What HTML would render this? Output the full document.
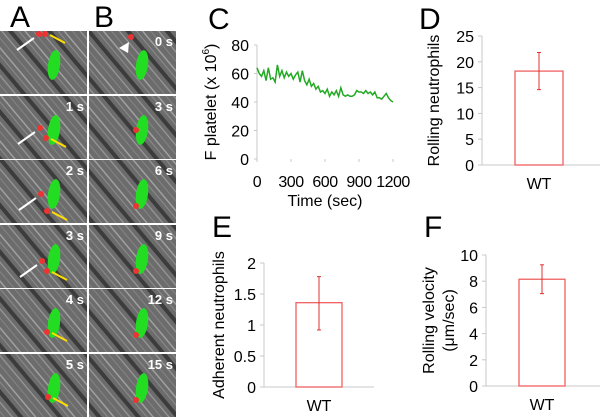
<!DOCTYPE html>
<html><head><meta charset="utf-8">
<style>
body{margin:0;background:#fff;font-family:"Liberation Sans",Arial,sans-serif;}
#wrap{position:relative;width:600px;height:419px;overflow:hidden;}
svg text{font-family:"Liberation Sans",Arial,sans-serif;}
</style></head>
<body>
<div id="wrap">
<svg id="fig" width="600" height="419" viewBox="0 0 600 419" xmlns="http://www.w3.org/2000/svg">
<defs>
<pattern id="tex" width="30" height="30" patternUnits="userSpaceOnUse" patternTransform="rotate(50)">
<rect width="30" height="30" fill="#6c6c6c"/>
<rect y="0" width="30" height="1.5" fill="#a0a0a0"/>
<rect y="5" width="30" height="1" fill="#8c8c8c"/>
<rect y="10" width="30" height="4" fill="#3c3c3c"/>
<rect y="18" width="30" height="1.2" fill="#9a9a9a"/>
<rect y="24" width="30" height="1" fill="#848484"/>
</pattern>
</defs>
<g id="micro"></g>
<g id="charts"></g>
</svg>
</div>
<script>
// Panel C data
const cTimes = [0,20,40,60,80,100,120,140,160,180,200,220,240,260,280,300,320,340,360,380,400,420,440,460,480,500,520,540,560,580,600,620,640,660,680,700,720,740,760,780,800,820,840,860,880,900,920,940,960,980,1000,1020,1040,1060,1080,1100,1120,1140,1160,1180,1200];
const cValues = [64,60,58,62,55,64,56,57,54,66,58,62,57,61,58,60,56,59,61,54,62,55,52,56,51,53,49,51,47,48,46,49,44,47,45,48,44,50,45,44,45,44,44,45,48,47,47,46,48,46,47,45,47,43,43,42,44,46,43,41,40];
const cTicksY = [0,20,40,60,80];
const cTicksX = [0,300,600,900,1200];
// Bar panels
const dCats = ['WT']; const dVals = [18.2]; const dErrLo = [14.6]; const dErrHi = [21.8];
const dTicks = [0,5,10,15,20,25];
const eCats = ['WT']; const eVals = [1.36]; const eErrLo = [0.92]; const eErrHi = [1.78];
const eTicks = ['0','0.5','1','1.5','2'];
const fCats = ['WT']; const fVals = [8.15]; const fErrLo = [7.05]; const fErrHi = [9.25];
const fTicks = [0,2,4,6,8,10];
// Microscopy times
const aTimes = ['','1 s','2 s','3 s','4 s','5 s'];
const bTimes = ['0 s','3 s','6 s','9 s','12 s','15 s'];

const NS='http://www.w3.org/2000/svg';
function mk(tag,attrs,parent,txt){const e=document.createElementNS(NS,tag);for(const k in attrs)e.setAttribute(k,attrs[k]);if(txt!==undefined)e.textContent=txt;parent.appendChild(e);return e;}
const charts=document.getElementById('charts');

[['A',10,27],['B',94,27],['C',208,29],['D',419,29],['E',212,237],['F',424,237]].forEach(l=>{
 const t=mk('text',{x:l[1],y:l[2],'font-size':30},charts,l[0]);
 
 
});

// microscopy
const micro=document.getElementById('micro');
const rows=[31,96,160,225,289,354];
const redA=[[[39,3],[45,3]],[[40,32],[46,42]],[[41,34],[47,51]],[[42,36],[47,46]],[[47,43]],[[48,43]]];
rows.forEach((ry,i)=>{
 [[0,aTimes[i],'a'],[89,bTimes[i],'b']].forEach(([px,lab,c])=>{
  const g=mk('g',{},micro);
  
  
  mk('rect',{x:px,y:ry,width:87,height:63,fill:'url(#tex)'},g);
  const gx = c==='a'?px+54:px+53, gy=ry+34;
  mk('ellipse',{cx:gx,cy:gy,rx:6,ry:15,fill:'#22dd22',transform:`rotate(8 ${gx} ${gy})`},g);
  if(c==='a'){
   redA[i].forEach(p=>mk('circle',{cx:px+p[0],cy:ry+p[1],r:3,fill:'#ee3333'},g));
   if(i<4){const w=redA[i][0];mk('line',{x1:px+w[0]-22,y1:ry+w[1]+16,x2:px+w[0]-5,y2:ry+w[1]+4,stroke:'#fff','stroke-width':2},g);}
   const y=redA[i][redA[i].length-1];
   mk('line',{x1:px+y[0]+20,y1:ry+y[1]+9,x2:px+y[0]+5,y2:ry+y[1]+1,stroke:'#ffdd00','stroke-width':2},g);
  } else {
   const rp = i===0?[px+42,ry+6]:[gx-6,gy+(i===1?0:12)];
   mk('circle',{cx:rp[0],cy:rp[1],r:3,fill:'#ee3333'},g);
  }
  if(lab){mk('text',{x:px+84,y:ry+15,'font-size':13,fill:'#fff','text-anchor':'end','font-weight':'bold'},g,lab);}
 });
});
mk('polygon',{points:'119,48 129,42 128,53',fill:'#fff'},micro);

// Panel C
(function(){
 const g=mk('g',{},charts);
 const x0=257,x1=393,yT=45,yB=159;
 const sx=v=>x0+(v/1200)*(x1-x0), sy=v=>yB-(v/80)*(yB-yT);
 mk('line',{x1:x0,y1:yT,x2:x0,y2:yB,stroke:'#c8c8c8'},g);
 cTicksY.forEach(v=>{mk('line',{x1:x0-3,y1:sy(v),x2:x0,y2:sy(v),stroke:'#c8c8c8'},g);
  const t=mk('text',{x:x0-8,y:sy(v)+6,'font-size':16,'text-anchor':'end'},g,v);});
 cTicksX.forEach(v=>{mk('line',{x1:sx(v),y1:yB,x2:sx(v),y2:yB+3,stroke:'#c8c8c8'},g);
  const t=mk('text',{x:sx(v),y:187,'font-size':16,'text-anchor':'middle','letter-spacing':'-0.5'},g,v);});
 const pts=cTimes.map((t,i)=>sx(t)+','+sy(cValues[i])).join(' ');
 const pl=mk('polyline',{points:pts,fill:'none',stroke:'#22aa22','stroke-width':1.5},g);
 
 const xt=mk('text',{x:sx(600),y:206,'font-size':16,'text-anchor':'middle'},g,'Time (sec)');
 
 const yt=mk('text',{transform:'translate(216,102) rotate(-90)','font-size':16,'text-anchor':'middle'},g);
 
 yt.innerHTML='F platelet  (x 10<tspan font-size="10" dy="-7">6</tspan><tspan dy="7">)</tspan>';
})();

function bar(name,cats,vals,lo,hi,ticks,max,ax,right,yT,yB,b0,b1,titleLines,tx){
 const g=mk('g',{},charts);
 const sy=v=>yB-(v/max)*(yB-yT);
 mk('line',{x1:ax,y1:yT,x2:ax,y2:yB,stroke:'#c8c8c8'},g);
 mk('line',{x1:ax,y1:yB,x2:right,y2:yB,stroke:'#c8c8c8'},g);
 ticks.forEach(tk=>{const v=parseFloat(tk);mk('line',{x1:ax-4,y1:sy(v),x2:ax,y2:sy(v),stroke:'#c8c8c8'},g);
  const t=mk('text',{x:ax-8,y:sy(v)+6,'font-size':16,'text-anchor':'end'},g,tk);});
 cats.forEach((c,i)=>{
  const r=mk('rect',{x:b0,y:sy(vals[i]),width:b1-b0,height:yB-sy(vals[i]),fill:'#fff',stroke:'#f06060','stroke-width':1.3},g);
  
  const cx=(b0+b1)/2;
  const e=mk('g',{stroke:'#e03030','stroke-width':1},g);
  mk('line',{x1:cx,y1:sy(lo[i]),x2:cx,y2:sy(hi[i])},e);
  mk('line',{x1:cx-2,y1:sy(lo[i]),x2:cx+2,y2:sy(lo[i])},e);
  mk('line',{x1:cx-2,y1:sy(hi[i]),x2:cx+2,y2:sy(hi[i])},e);
  const t=mk('text',{x:cx,y:yB+24,'font-size':16,'text-anchor':'middle'},g,c);
 });
 titleLines.forEach((s,j)=>{const t=mk('text',{transform:`translate(${tx+j*20},${(yT+yB)/2}) rotate(-90)`,'font-size':16,'text-anchor':'middle'},g,s);
  });
}
bar('panel-d-bar-chart',dCats,dVals,dErrLo,dErrHi,dTicks,25,482,600,36,165,515,563,['Rolling neutrophils'],439);
bar('panel-e-bar-chart',eCats,eVals,eErrLo,eErrHi,eTicks,2,264,374,263,387,296,342,['Adherent neutrophils'],224);
bar('panel-f-bar-chart',fCats,fVals,fErrLo,fErrHi,fTicks,10,486,600,255,386,519,565,['Rolling velocity','(μm/sec)'],434);
</script>
</body></html>
